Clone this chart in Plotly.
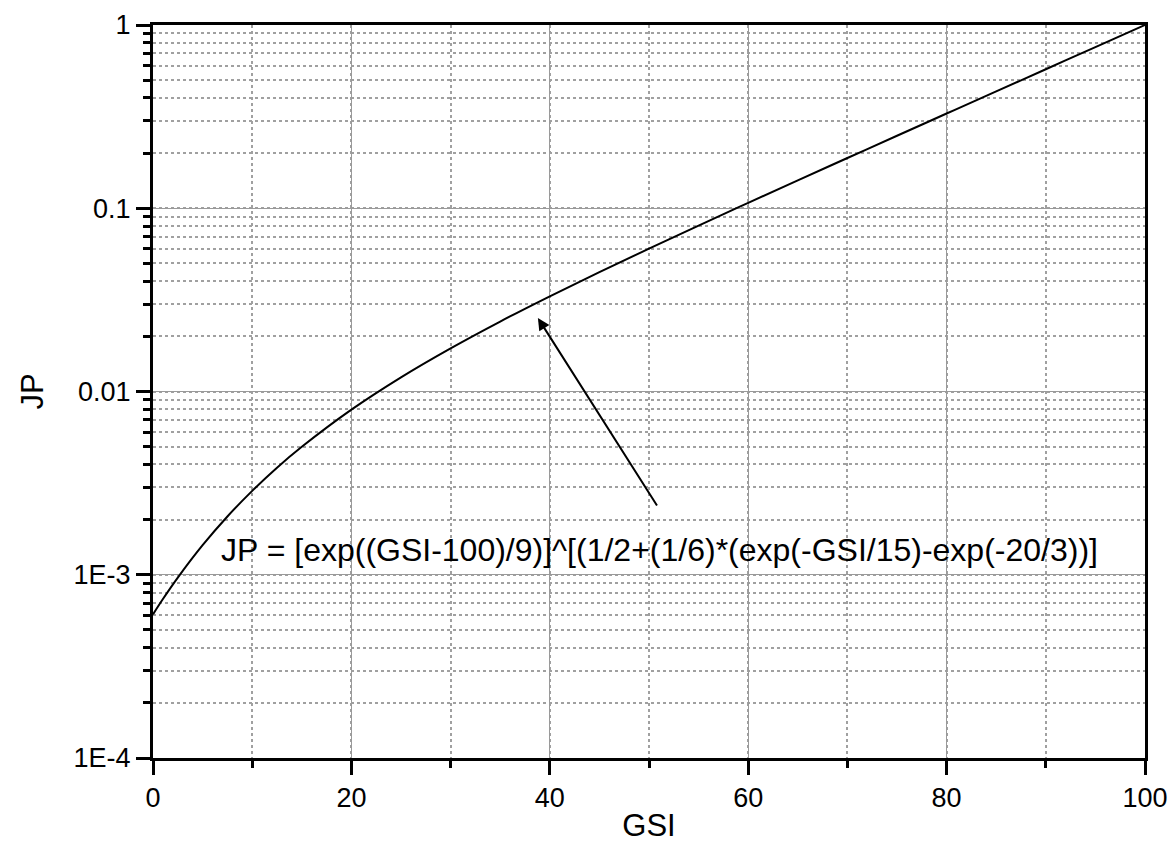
import plotly.graph_objects as go

# Values
gsi = [0, 1, 2.5, 5, 7.5, 10, 12.5, 15, 20, 25, 30, 35, 40, 45, 50, 55, 60, 65, 70, 75, 80, 85, 90, 95, 100]
jp = [6.08e-4, 7.37e-4, 9.65e-4, 1.45e-3, 2.08e-3, 2.87e-3, 3.84e-3, 4.99e-3, 7.96e-3, 0.01195, 0.0172,
      0.02409, 0.03307, 0.04482, 0.0602, 0.08045, 0.107, 0.142, 0.188, 0.2487, 0.3288, 0.4343, 0.5736,
      0.7575, 1.0]

y_tickvals = [1e-4, 1e-3, 0.01, 0.1, 1]
y_ticktext = ["1E-4", "1E-3", "0.01", "0.1", "1"]
x_tickvals = [0, 20, 40, 60, 80, 100]

formula = "JP = [exp((GSI-100)/9)]^[(1/2+(1/6)*(exp(-GSI/15)-exp(-20/3))]"

FONT = "Liberation Sans, Arial, Helvetica, sans-serif"

fig = go.Figure()
fig.add_trace(go.Scatter(x=gsi, y=jp, mode="lines", line=dict(color="black", width=2, shape="spline"),
                         showlegend=False, hoverinfo="skip"))

fig.update_layout(
    width=1170, height=843,
    margin=dict(l=153, r=25, t=25, b=85, autoexpand=False),
    paper_bgcolor="white", plot_bgcolor="white",
    font=dict(family=FONT, color="black"),
)

fig.update_xaxes(
    range=[0, 100], tickvals=x_tickvals, ticks="outside", ticklen=14, tickwidth=3, tickcolor="black",
    showline=True, linewidth=3, linecolor="black", mirror=True, automargin=False,
    showgrid=True, gridcolor="#9a9a9a", gridwidth=1.2, zeroline=False,
    tickfont=dict(size=27, family=FONT), title=dict(text="GSI", font=dict(size=31, family=FONT), standoff=10),
    minor=dict(dtick=10, ticks="outside", ticklen=7, tickwidth=3, tickcolor="black",
               showgrid=True, gridcolor="#a0a0a0", griddash="dot", gridwidth=1.5),
)
fig.update_yaxes(
    type="log", range=[-4, 0], tickvals=y_tickvals, ticktext=y_ticktext,
    ticks="outside", ticklen=14, tickwidth=3, tickcolor="black",
    showline=True, linewidth=3, linecolor="black", mirror=True, automargin=False,
    showgrid=True, gridcolor="#9a9a9a", gridwidth=1.2, zeroline=False,
    tickfont=dict(size=27, family=FONT), title=dict(text="JP", font=dict(size=31, family=FONT), standoff=21),
    minor=dict(dtick="D1", ticks="outside", ticklen=7, tickwidth=3, tickcolor="black",
               showgrid=True, gridcolor="#a0a0a0", griddash="dot", gridwidth=1.5),
)

fig.add_annotation(x=51.1, y=-2.865, xref="x", yref="y", text=formula, showarrow=False,
                   font=dict(size=32, family=FONT, color="black"))
fig.add_annotation(x=38.8, y=-1.599, ax=50.9, ay=-2.63, xref="x", yref="y", axref="x", ayref="y",
                   text="", showarrow=True, arrowhead=2, arrowsize=1.2, arrowwidth=2, arrowcolor="black")

fig.write_html("out.html", config={"displayModeBar": False},
               post_script="document.body.style.margin='0';document.body.style.overflow='hidden';")
